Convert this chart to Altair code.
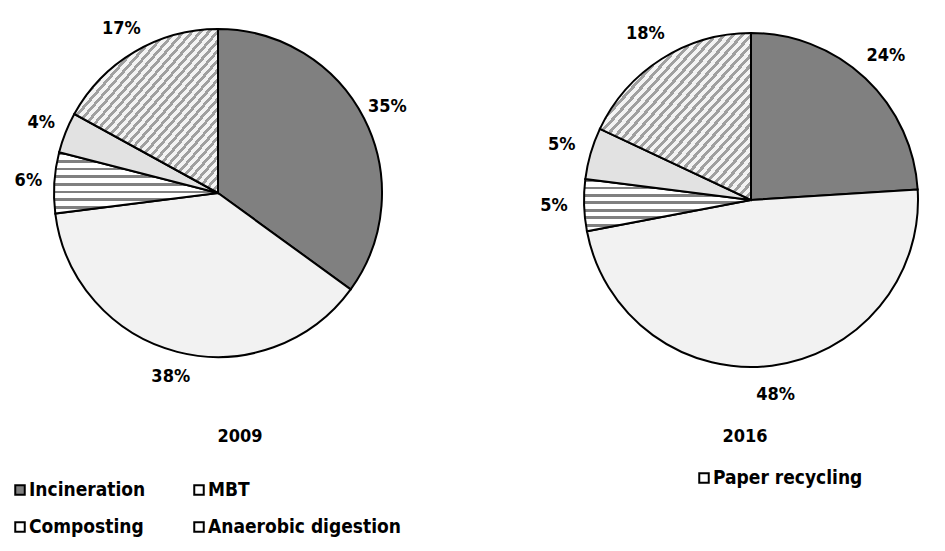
import math
import altair as alt
import pandas as pd

# ---- data ----
categories = ["Incineration", "MBT", "Paper recycling", "Composting", "Anaerobic digestion"]
years = ["2009", "2016"]
share_2009 = [35, 38, 6, 4, 17]
share_2016 = [24, 48, 5, 5, 18]

rows = []
for yr, vals in zip(years, [share_2009, share_2016]):
    for i, (c, v) in enumerate(zip(categories, vals)):
        rows.append({"year": yr, "category": c, "order": i, "value": v, "label": f"{v}%"})
df = pd.DataFrame(rows)

FONT = "DejaVu Sans Condensed, Liberation Sans Narrow, Arial Narrow, Liberation Sans, sans-serif"


def stripes(n, color, frac, x1, y1, x2, y2, light="#ffffff"):
    stops = []
    for i in range(n):
        a = i / n
        b = (i + frac) / n
        c = (i + 1) / n
        stops += [
            alt.GradientStop(offset=a, color=color),
            alt.GradientStop(offset=b, color=color),
            alt.GradientStop(offset=b, color=light),
            alt.GradientStop(offset=c, color=light),
        ]
    return alt.Gradient(gradient="linear", stops=stops, x1=x1, y1=y1, x2=x2, y2=y2)


# layout (chart coordinates)
centers = {"2009": (210, 185), "2016": (743, 192)}
radii = {"2009": 164, "2016": 167}
label_r = {"2009": 190, "2016": 197}
hstripes = {"2009": 8, "2016": 7}

flat = {
    "Incineration": "#808080",
    "MBT": "#f2f2f2",
    "Composting": "#e2e2e2",
}

base = alt.Chart(df).transform_window(
    cum="sum(value)", groupby=["year"], sort=[alt.SortField("order")],
    frame=[None, 0]
).transform_calculate(
    t1="datum.cum * 2 * PI / 100",
    t0="(datum.cum - datum.value) * 2 * PI / 100",
).transform_calculate(
    tm="(datum.t0 + datum.t1) / 2"
)

layers = []
for yr in years:
    cx, cy = centers[yr]
    for c in categories:
        if c == "Paper recycling":
            fill = stripes(hstripes[yr], "#808080", 0.38, 0, 0, 0, 1)
        elif c == "Anaerobic digestion":
            fill = stripes(34, "#a0a0a0", 0.45, 0, 0, 1, 1, light="#f4f4f4")
        else:
            fill = flat[c]
        layers.append(
            base.transform_filter(
                (alt.datum.year == yr) & (alt.datum.category == c)
            ).mark_arc(
                radius=radii[yr], fill=fill, stroke="black", strokeWidth=2
            ).encode(
                theta=alt.Theta("t0:Q", scale=None),
                theta2="t1:Q",
                x=alt.value(cx),
                y=alt.value(cy),
            )
        )
    layers.append(
        base.transform_filter(alt.datum.year == yr).mark_text(
            radius=label_r[yr], font=FONT, fontSize=18, fontWeight="bold",
            color="black", align="center", baseline="middle"
        ).encode(
            theta=alt.Theta("tm:Q", scale=None),
            text="label:N",
            x=alt.value(cx),
            y=alt.value(cy),
        )
    )

# year captions
year_pos = {"2009": (232, 429), "2016": (737, 429)}
year_df = pd.DataFrame({"year": years})
for yr in years:
    layers.append(
        alt.Chart(year_df).transform_filter(alt.datum.year == yr).mark_text(
            font=FONT, fontSize=18, fontWeight="bold", color="black",
            align="center", baseline="middle"
        ).encode(text="year:N", x=alt.value(year_pos[yr][0]), y=alt.value(year_pos[yr][1]))
    )

# legend
leg_pos = {
    "Incineration": (12, 482),
    "MBT": (191, 482),
    "Paper recycling": (696, 470),
    "Composting": (12, 519),
    "Anaerobic digestion": (191, 519),
}
leg_fill = {
    "Incineration": "#808080",
    "MBT": "#ffffff",
    "Paper recycling": "#ffffff",
    "Composting": "#ffffff",
    "Anaerobic digestion": "#ffffff",
}
leg_df = pd.DataFrame({"category": categories})
for c in categories:
    lx, ly = leg_pos[c]
    sub = alt.Chart(leg_df).transform_filter(alt.datum.category == c)
    layers.append(
        sub.mark_square(size=90, fill=leg_fill[c], stroke="black", strokeWidth=2, opacity=1).encode(
            x=alt.value(lx), y=alt.value(ly)
        )
    )
    layers.append(
        sub.mark_text(font=FONT, fontSize=19, fontWeight="bold", color="black",
                      align="left", baseline="middle").encode(
            text="category:N", x=alt.value(lx + 9), y=alt.value(ly)
        )
    )

chart = alt.layer(*layers).properties(
    width=929, height=535, autosize=alt.AutoSizeParams(type="none"), padding=0
).configure_view(stroke=None)

chart.save("out.html", embed_options={"renderer": "svg", "actions": False})
